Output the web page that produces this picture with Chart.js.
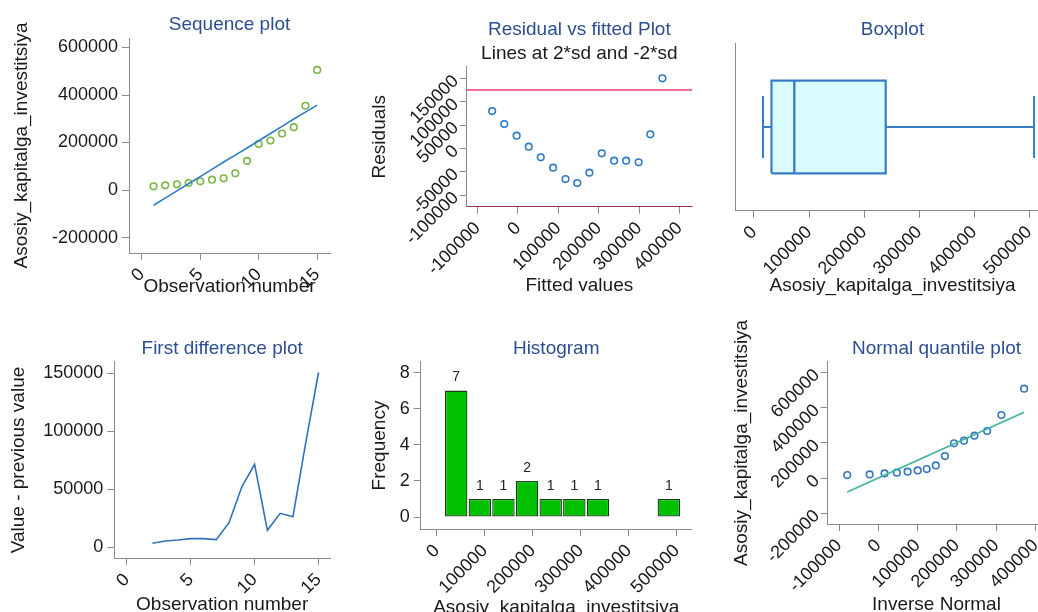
<!DOCTYPE html>
<html><head><meta charset="utf-8">
<script src="https://cdn.jsdelivr.net/npm/chart.js@4.4.0/dist/chart.umd.min.js"></script>
<style>
html,body{margin:0;padding:0;background:#fff;width:1038px;height:612px;overflow:hidden;position:relative}
canvas{position:absolute}
</style></head><body>
<canvas id="c1" width="340" height="300" style="left:0;top:0"></canvas>
<canvas id="c2" width="340" height="300" style="left:360px;top:0"></canvas>
<canvas id="c3" width="355" height="300" style="left:700px;top:0"></canvas>
<canvas id="c4" width="340" height="300" style="left:0;top:320px"></canvas>
<canvas id="c5" width="340" height="310" style="left:360px;top:320px"></canvas>
<canvas id="c6" width="335" height="300" style="left:720px;top:320px"></canvas>
<script>
// ---------------- DATA ----------------
const obsNumbers = [1,2,3,4,5,6,7,8,9,10,11,12,13,14,15];
const seqValues = [15500,19700,24000,29600,36600,43700,49300,70400,122500,194300,208400,238000,264700,354900,505600];
const fittedValues = [-63900,-34000,-3300,26600,56400,87100,117800,146900,176800,207500,238200,268000,298800,327800,357700];
const residualValues = [80000,52100,27100,3600,-19300,-41400,-65700,-74300,-52100,-10700,-26400,-26400,-30000,30000,150000];
const twoSd = 125000;
const boxStats = [16400, 31800, 73300, 239400, 509000]; // min, q1, median, q3, max
const diffObs = [2,3,4,5,6,7,8,9,10,11,12,13,14,15];
const diffValues = [3400,5450,6300,7460,7460,6600,21200,52200,71500,14600,29300,26400,90000,150700];
const histCenters = [40600,89800,139000,188200,237400,286600,335800,385000,434200,483400];
const histCounts = [7,1,1,2,1,1,1,0,0,1];
const invNormal = [-79300,-22300,15700,47100,74400,100000,123100,146300,169400,192600,218200,244600,276900,313200,371100];
const quantileValues = [17100,20900,26500,30300,36000,43600,51200,72000,125000,197200,212300,240800,267300,358300,508000];
const refLineX = [-79300, 371100];
const refLineY = [-79600, 373500];

const ticksObs = [0,5,10,15];
const ticksSeqY = [-200000,0,200000,400000,600000];
const ticksResX = [-100000,0,100000,200000,300000,400000];
const ticksResY = [-100000,-50000,0,50000,100000,150000];
const ticksBoxX = [0,100000,200000,300000,400000,500000];
const ticksDiffY = [0,50000,100000,150000];
const ticksHistX = [0,100000,200000,300000,400000,500000];
const ticksHistY = [0,2,4,6,8];
const ticksQX = [-100000,0,100000,200000,300000,400000];
const ticksQY = [-200000,0,200000,400000,600000];

// ---------------- STYLE ----------------
const FONT = "'Liberation Sans', Arial, Helvetica, sans-serif";
const AXIS = '#8c8c8c';
const TEXT = '#1a1a1a';
const BLUE_T = '#2c4f92';

const panelText = {
  id: 'panelText',
  afterDraw(chart, args, opts) {
    const {ctx, chartArea} = chart;
    const cx = (chartArea.left + chartArea.right) / 2;
    ctx.save();
    ctx.textAlign = 'center';
    ctx.textBaseline = 'middle';
    (opts.lines || []).forEach(l => {
      ctx.font = l.size + 'px ' + FONT;
      ctx.fillStyle = l.color;
      ctx.fillText(l.text, cx, l.y);
    });
    ctx.restore();
  }
};
const barCounts = {
  id: 'barCounts',
  afterDatasetsDraw(chart, args, opts) {
    if (!opts.enabled) return;
    const {ctx} = chart;
    const meta = chart.getDatasetMeta(0);
    ctx.save();
    ctx.textAlign = 'center';
    ctx.textBaseline = 'middle';
    ctx.font = '14px ' + FONT;
    ctx.fillStyle = '#222';
    meta.data.forEach((bar, i) => {
      const v = chart.data.datasets[0].data[i].y;
      if (!v) return;
      ctx.fillText(String(v), bar.x, bar.y - opts.offset);
    });
    ctx.restore();
  }
};
Chart.register(panelText, barCounts);

function axis(o) {
  return {
    type: 'linear',
    min: o.min, max: o.max,
    offset: false,
    afterBuildTicks: s => { s.ticks = o.ticks ? o.ticks.map(v => ({value: v})) : []; },
    afterFit: s => { if (o.horiz) s.height = o.size; else s.width = o.size; },
    border: {display: true, color: AXIS, width: 1},
    grid: {display: o.showTicks !== false, drawOnChartArea: false, drawTicks: true, tickLength: 7, tickColor: AXIS, offset: false},
    ticks: {display: o.showLabels !== false, autoSkip: false, minRotation: o.rot || 0, maxRotation: o.rot || 0,
            padding: o.pad != null ? o.pad : 4, color: TEXT, font: {family: FONT, size: 18}, callback: v => String(v)},
    title: o.title ? {display: true, text: o.title, color: TEXT, font: {family: FONT, size: 19},
            padding: o.horiz ? {top: 0, bottom: o.titlePad} : {top: o.titlePad, bottom: 0}} : {display: false}
  };
}
function baseOptions(p) {
  return {
    responsive: false, animation: false, events: [],
    layout: {padding: {left: 0, top: p.padTop, right: p.padRight, bottom: 0}},
    plugins: {legend: {display: false}, tooltip: {enabled: false}, panelText: {lines: p.lines}, barCounts: p.counts || {enabled: false}},
    scales: {x: axis(Object.assign({horiz: true}, p.x)), y: axis(p.y)}
  };
}
const pts = (xs, ys) => xs.map((x, i) => ({x: x, y: ys[i]}));
const markers = (data, color) => ({data, showLine: false, pointStyle: 'circle', pointRadius: 3.3, pointBorderWidth: 1.6,
  borderColor: color, backgroundColor: 'rgba(0,0,0,0)'});
const line = (data, color, w) => ({data, showLine: true, pointRadius: 0, borderColor: color, borderWidth: w || 1.6, fill: false});

// Panel 1: Sequence plot
new Chart(document.getElementById('c1'), {
  type: 'scatter',
  data: {datasets: [
    line(pts(obsNumbers, fittedValues), '#2f7cc4'),
    markers(pts(obsNumbers, seqValues), '#78b843')
  ]},
  options: baseOptions({padTop: 38, padRight: 10,
    lines: [{text: 'Sequence plot', y: 24.5, size: 19, color: BLUE_T}],
    x: {min: -1.1, max: 16.1, ticks: ticksObs, size: 47, rot: 45, title: 'Observation number', titlePad: 1.9},
    y: {min: -265000, max: 640000, ticks: ticksSeqY, size: 129, title: 'Asosiy_kapitalga_investitsiya', titlePad: 10.3}})
});

// Panel 2: Residual vs fitted
const P2X = [-127000, 431000];
new Chart(document.getElementById('c2'), {
  type: 'scatter',
  data: {datasets: [
    line([{x: P2X[0], y: twoSd}, {x: P2X[1], y: twoSd}], '#f03c6e', 1.6),
    line([{x: P2X[0], y: -twoSd}, {x: P2X[1], y: -twoSd}], '#a01e3c', 1.6),
    markers(pts(fittedValues, residualValues), '#2f7bc4')
  ]},
  options: baseOptions({padTop: 66.7, padRight: 8,
    lines: [{text: 'Residual vs fitted Plot', y: 30, size: 19, color: BLUE_T},
            {text: 'Lines at 2*sd and -2*sd', y: 53.5, size: 19, color: TEXT}],
    x: {min: P2X[0], max: P2X[1], ticks: ticksResX, size: 93.3, rot: 45, title: 'Fitted values', titlePad: 2.6},
    y: {min: -125000, max: 175000, ticks: ticksResY, size: 106.7, rot: 45, title: 'Residuals', titlePad: 8.6}})
});

// Panel 3: Boxplot (box drawn beneath median and whiskers)
const BOX_H = 0.554, CAP_H = 0.369;
const [bMin, bQ1, bMed, bQ3, bMax] = boxStats;
new Chart(document.getElementById('c3'), {
  type: 'scatter',
  data: {datasets: [
    Object.assign(line([{x: bMed, y: -BOX_H}, {x: bMed, y: BOX_H}], '#3b7dc4', 2.4), {order: 0}),
    Object.assign(line([{x: bMin, y: 0}, {x: bQ1, y: 0}], '#3b7dc4', 2), {order: 0}),
    Object.assign(line([{x: bQ3, y: 0}, {x: bMax, y: 0}], '#3b7dc4', 2), {order: 0}),
    Object.assign(line([{x: bMin, y: -CAP_H}, {x: bMin, y: CAP_H}], '#3b7dc4', 2), {order: 0}),
    Object.assign(line([{x: bMax, y: -CAP_H}, {x: bMax, y: CAP_H}], '#3b7dc4', 2), {order: 0}),
    {data: [{x: bQ1, y: -BOX_H}, {x: bQ1, y: BOX_H}, {x: bQ3, y: BOX_H}, {x: bQ3, y: -BOX_H}, {x: bQ1, y: -BOX_H}],
     order: 1, showLine: true, pointRadius: 0, fill: 'shape', backgroundColor: '#d8fcfd', borderColor: '#3b7dc4', borderWidth: 2.2}
  ]},
  options: baseOptions({padTop: 43.3, padRight: 5,
    lines: [{text: 'Boxplot', y: 30, size: 19, color: BLUE_T}],
    x: {min: -34500, max: 538000, ticks: ticksBoxX, size: 89.3, rot: 45, title: 'Asosiy_kapitalga_investitsiya', titlePad: 2.6},
    y: {min: -1, max: 1, ticks: [], size: 35, showTicks: false, showLabels: false}})
});

// Panel 4: First difference
new Chart(document.getElementById('c4'), {
  type: 'scatter',
  data: {datasets: [line(pts(diffObs, diffValues), '#2f72b8', 1.6)]},
  options: baseOptions({padTop: 41.7, padRight: 10,
    lines: [{text: 'First difference plot', y: 28.3, size: 19, color: BLUE_T}],
    x: {min: -0.98, max: 15.9, ticks: ticksObs, size: 61.7, rot: 45, title: 'Observation number', titlePad: 3.6},
    y: {min: -9500, max: 160000, ticks: ticksDiffY, size: 114.3, title: 'Value - previous value', titlePad: 6.9}})
});

// Panel 5: Histogram
new Chart(document.getElementById('c5'), {
  type: 'bar',
  data: {datasets: [{
    data: pts(histCenters, histCounts),
    backgroundColor: '#00c000', borderColor: '#1c3a1c',
    borderWidth: c => (c.raw && c.raw.y ? 1.3 : 0), borderSkipped: false,
    barPercentage: 0.95, categoryPercentage: 1
  }]},
  options: baseOptions({padTop: 41.7, padRight: 8.3,
    counts: {enabled: true, offset: 13},
    lines: [{text: 'Histogram', y: 28.3, size: 19, color: BLUE_T}],
    x: {min: -33300, max: 531000, ticks: ticksHistX, size: 100.7, rot: 45, title: 'Asosiy_kapitalga_investitsiya', titlePad: 11},
    y: {min: -0.68, max: 8.6, ticks: ticksHistY, size: 60.7, title: 'Frequency', titlePad: 8.6}})
});

// Panel 6: Normal quantile plot
new Chart(document.getElementById('c6'), {
  type: 'scatter',
  data: {datasets: [
    line(pts(refLineX, refLineY), '#3cb4a0', 1.6),
    markers(pts(invNormal, quantileValues), '#3478c0')
  ]},
  options: baseOptions({padTop: 41.7, padRight: 4,
    lines: [{text: 'Normal quantile plot', y: 28.3, size: 19, color: BLUE_T}],
    x: {min: -129000, max: 425000, ticks: ticksQX, size: 96, rot: 45, title: 'Inverse Normal', titlePad: 3.8},
    y: {min: -261000, max: 661000, ticks: ticksQY, size: 107.7, rot: 45, title: 'Asosiy_kapitalga_investitsiya', titlePad: 10.3}})
});
</script>
</body></html>
